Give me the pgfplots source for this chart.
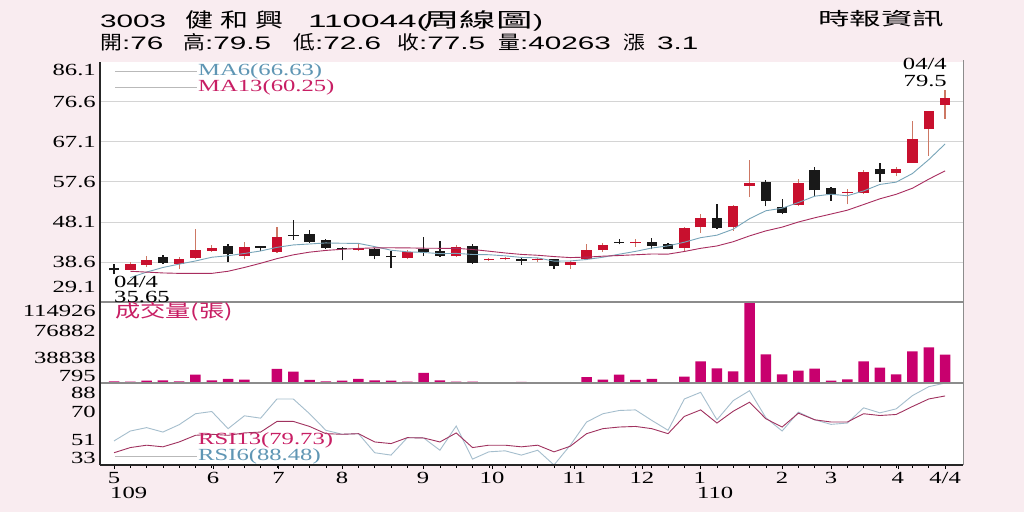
\documentclass[border=0pt]{standalone}
\usepackage{fontspec}
\usepackage{graphicx}
\setmainfont{Liberation Serif}[FakeStretch=1.45]
\newfontfamily\tsans{Liberation Sans}[FakeStretch=1.65]
\newfontfamily\cjkA{Noto Sans CJK TC}[FakeStretch=1.4]
\newfontfamily\cjkB{Noto Sans CJK TC}[FakeStretch=1.15]
\newfontfamily\cjkC{Noto Sans CJK TC}[FakeStretch=1.75]
\usepackage{pgfplots}
\usepackage{pgfplotstable}
\pgfplotsset{compat=1.18}

\definecolor{bgpink}{RGB}{249,236,240}
\definecolor{candred}{RGB}{200,16,46}
\definecolor{wickred}{RGB}{205,120,100}
\definecolor{candblk}{RGB}{25,25,25}
\definecolor{maA}{RGB}{120,165,185}
\definecolor{maB}{RGB}{168,45,95}
\definecolor{volc}{RGB}{200,0,110}
\definecolor{rsiA}{RGB}{165,190,205}
\definecolor{rsiB}{RGB}{160,50,95}
\definecolor{labA}{RGB}{95,150,180}
\definecolor{labB}{RGB}{200,30,100}
\definecolor{gridc}{RGB}{212,212,212}
\definecolor{sepc}{RGB}{140,140,140}
\definecolor{legl}{RGB}{185,185,185}

\newcommand{\tickf}{\fontsize{17}{17}\selectfont}

% up candles (close >= open)
\pgfplotstableread{
i O H L C
1 36.8 38.6 36.6 38.2
2 37.9 40.0 37.4 39.0
4 38.2 39.8 36.9 39.4
5 39.5 46.4 39.2 41.4
6 41.2 42.6 41.0 41.9
8 40.0 43.3 39.2 42.2
10 41.0 46.9 40.8 44.6
15 41.5 43.2 41.2 41.9
18 39.6 41.4 39.2 41.0
21 40.0 42.6 39.8 42.2
23 39.0 39.5 38.9 39.3
24 39.2 39.9 39.0 39.5
26 39.0 39.5 38.7 39.3
28 37.9 38.8 37.0 38.7
29 39.2 42.8 39.0 41.4
30 41.4 43.2 41.0 42.6
32 43.1 44.1 42.2 43.4
35 42.0 46.9 41.0 46.6
36 46.8 50.0 45.5 49.1
38 46.8 52.1 46.0 51.9
39 56.7 62.9 54.0 57.3
42 52.1 58.2 51.8 57.3
45 54.9 56.0 52.3 55.2
46 55.0 60.4 54.8 60.0
48 59.8 61.2 59.0 60.6
49 62.2 72.1 62.2 67.9
50 70.1 74.5 63.8 74.5
51 76.0 79.5 72.6 77.5
}\upT

% down candles (close < open)
\pgfplotstableread{
i O H L C
0 37.2 38.2 35.65 36.6
3 39.9 40.3 38.2 38.45
7 42.4 42.96 38.6 40.4
9 42.3 42.5 41.1 42.0
11 45.1 48.5 43.9 44.8
12 45.3 46.1 43.2 43.3
13 43.8 44.0 41.8 41.9
14 42.0 42.2 39.0 41.7
16 41.6 42.0 39.2 40.0
17 40.0 41.2 37.1 39.7
19 41.6 44.5 40.0 41.0
20 41.2 43.6 39.8 40.0
22 42.4 42.8 38.2 38.45
25 39.4 39.6 38.0 38.8
27 39.2 39.4 36.9 37.6
31 43.4 44.1 42.8 43.1
33 43.4 44.4 41.6 42.4
34 42.8 43.0 41.6 41.8
37 49.0 52.3 46.4 46.6
40 57.6 58.0 51.8 53.1
41 51.7 53.5 49.9 50.2
43 60.5 61.2 54.3 55.6
44 56.2 56.4 53.1 54.7
47 60.8 62.2 57.7 59.4
}\dnT

% moving averages
\pgfplotstableread{
i a b
1 34.9 36.4
2 36.2 36.2
3 37.3 36.0
4 38.1 35.9
5 38.84 35.9
6 39.73 35.9
7 40.09 36.4
8 40.63 37.3
9 41.22 38.3
10 42.08 39.4
11 42.65 40.3
12 42.88 40.94
13 43.13 41.35
14 43.05 41.62
15 43.02 41.83
16 42.25 41.95
17 41.4 41.98
18 41.02 41.95
19 40.87 41.88
20 40.58 41.85
21 40.65 41.85
22 40.39 41.57
23 40.33 41.17
24 40.06 40.75
25 39.69 40.4
26 39.58 40.2
27 38.81 39.89
28 38.85 39.65
29 39.2 39.76
30 39.73 39.98
31 40.45 40.14
32 41.12 40.32
33 41.92 40.5
34 42.43 40.47
35 43.3 41.1
36 44.38 41.85
37 44.97 42.41
38 46.4 43.42
39 48.88 44.8
40 50.77 45.99
41 51.37 46.88
42 52.73 48.1
43 54.23 49.1
44 54.7 49.99
45 54.33 50.9
46 55.48 52.25
47 57.02 53.61
48 57.57 54.68
49 59.62 56.13
50 62.92 58.28
51 66.63 60.25
}\maT

% volume and RSI
\pgfplotstableread{
i v r6 r13
0 2400 49.3 41.3
1 1900 56.0 44.8
2 3300 58.3 46.4
3 3800 55.3 45.3
4 2400 60.3 48.6
5 11800 67.7 53.1
6 3800 69.2 53.8
7 5700 57.6 53.1
8 4700 66.3 54.7
9 600 64.7 55.3
10 19900 77.7 62.5
11 16100 77.7 62.5
12 4300 67.7 59.1
13 2400 56.5 54.2
14 3300 53.8 53.8
15 5700 54.2 54.2
16 3800 41.3 48.6
17 3300 39.7 47.5
18 1900 51.5 51.5
19 14200 51.3 51.3
20 3800 43.0 48.6
21 1900 59.4 54.7
22 1900 37.0 44.8
23 800 41.9 46.4
24 1000 42.6 46.4
25 1500 39.7 45.3
26 500 43.0 46.4
27 500 33.0 41.9
28 500 46.4 45.7
29 8500 62.1 54.2
30 4700 67.7 57.6
31 11800 69.9 58.7
32 4300 70.3 59.1
33 5700 63.2 57.6
34 900 56.5 54.2
35 9000 77.7 65.9
36 30700 82.2 70.3
37 20800 63.6 61.4
38 16600 76.6 69.4
39 114926 83.3 75.5
40 40700 65.0 64.3
41 12300 56.0 58.7
42 17500 68.8 68.1
43 20300 63.6 63.6
44 3300 60.5 62.1
45 5200 61.4 62.1
46 30700 71.7 67.7
47 21800 68.3 66.5
48 12300 71.0 67.2
49 44900 80.0 72.6
50 50600 86.0 77.7
51 40263 88.48 79.73
}\vrT

\pgfplotsset{
  panel/.style={
    scale only axis, width=863pt,
    xmin=-0.86, xmax=52.1,
    axis line style={draw=none},
    axis background/.style={fill=white},
    ytick style={draw=none},
    scaled y ticks=false,
    yticklabel style={font=\tickf, inner sep=0pt, xshift=-4pt},
    anchor=south west,
  },
  candle/.style 2 args={draw=none, mark=none, forget plot,
    error bars/.cd, y dir=plus, y explicit, error mark=none,
    error bar style={draw=#1, line width=#2}},
}

\begin{document}
\begin{tikzpicture}[x=1pt,y=1pt]
\fill[bgpink] (0,0) rectangle (1024,512);
\useasboundingbox (0,0) rectangle (1024,512);

% ---------- price panel ----------
\begin{axis}[panel, at={(100pt,210pt)}, height=240pt,
  ymin=29.1, ymax=86.1, xtick=\empty,
  ytick={38.6,48.1,57.6,67.1,76.6},
  yticklabels={38.6,48.1,57.6,67.1,76.6},
  ymajorgrids, grid style={gridc, line width=1pt},
  extra y ticks={32.7,84.2}, extra y tick labels={29.1,86.1},
  extra y tick style={grid=none},
]
\addplot[candle={wickred}{1.2pt}]
  table[x=i, y=L, y error plus expr=\thisrow{H}-\thisrow{L}] {\upT};
\addplot[candle={candblk}{1.2pt}]
  table[x=i, y=L, y error plus expr=\thisrow{H}-\thisrow{L}] {\dnT};
\addplot[candle={candred}{10.5pt}]
  table[x=i, y=O, y error plus expr=\thisrow{C}-\thisrow{O}] {\upT};
\addplot[candle={candblk}{10.5pt}]
  table[x=i, y=C, y error plus expr=\thisrow{O}-\thisrow{C}] {\dnT};
\addplot[maA, line width=0.9pt, mark=none] table[x=i, y=a] {\maT};
\addplot[maB, line width=0.9pt, mark=none] table[x=i, y=b] {\maT};
\end{axis}

% ---------- volume panel ----------
\begin{axis}[panel, at={(100pt,129pt)}, height=81pt,
  ymin=0, ymax=114926, xtick=\empty,
  ytick={9930,36180,74490,102150},
  yticklabels={795,38838,76882,114926},
]
\addplot[ybar, bar width=10.5pt, fill=volc, draw=none] table[x=i, y=v] {\vrT};
\end{axis}

% ---------- RSI panel ----------
\begin{axis}[panel, at={(100pt,47pt)}, height=82pt,
  ymin=33, ymax=88.5,
  ytick={37.7,49.9,68.9,82.1},
  yticklabels={33,51,70,88},
  xtick={0,6.07,10.1,14,18.96,23.2,28.25,32.4,35.95,41,44,48.1,51},
  xticklabels={5,6,7,8,9,10,11,12,1,2,3,4,4/4},
  minor xtick={0,1,...,51},
  xtick pos=left, xtick align=outside,
  xtick style={draw=black, line width=0.6pt},
  major tick length=4pt, minor tick length=2.5pt,
  xticklabel style={font=\tickf, inner sep=0pt, yshift=-3pt},
]
\addplot[rsiA, line width=0.9pt, mark=none] table[x=i, y=r6] {\vrT};
\addplot[rsiB, line width=0.9pt, mark=none] table[x=i, y=r13] {\vrT};
\end{axis}

% ---------- frame ----------
\draw[sepc, line width=1.4pt] (100,210) -- (963,210);
\draw[sepc, line width=1.4pt] (100,129) -- (963,129);
\draw[sepc, line width=1pt] (963,47) -- (963,452);
\draw[black!85, line width=1.3pt] (100,47) -- (963,47);
\draw[black!85, line width=1.3pt] (100,47) -- (100,450);

% ---------- legends / annotations ----------
\draw[legl, line width=0.6pt] (115,441) -- (197,441);
\draw[legl, line width=0.6pt] (115,425) -- (197,425);
\node[anchor=west, inner sep=0, text=labA, font=\tickf] at (198,441) {MA6(66.63)};
\node[anchor=west, inner sep=0, text=labB, font=\tickf] at (198,425) {MA13(60.25)};
\node[anchor=east, inner sep=0, font=\tickf] at (947,448) {04/4};
\node[anchor=east, inner sep=0, font=\tickf] at (947,431) {79.5};
\node[anchor=base west, inner sep=0, font=\tickf] at (114,225) {04/4};
\node[anchor=base west, inner sep=0, font=\tickf] at (114,210) {35.65};
\node[anchor=west, inner sep=0, text=labB] at (115,200) {\cjkA\fontsize{18}{18}\selectfont 成交量(張)};
\draw[legl, line width=0.6pt] (115,56) -- (197,56);
\node[anchor=west, inner sep=0, text=labB, font=\tickf] at (198,72) {RSI13(79.73)};
\node[anchor=west, inner sep=0, text=labA, font=\tickf] at (198,56) {RSI6(88.48)};
\node[anchor=north west, inner sep=0, font=\tickf] at (110,25) {109};
\node[anchor=north west, inner sep=0, font=\tickf] at (697,25) {110};

% ---------- title ----------
\begin{scope}[every node/.style={anchor=base west, inner sep=0}]
\node at (100,484) {\tsans\fontsize{18}{18}\selectfont 3003};
\node at (185,484) {\cjkA\fontsize{20}{20}\selectfont 健};
\node at (220,484) {\cjkA\fontsize{20}{20}\selectfont 和};
\node at (255,484) {\cjkA\fontsize{20}{20}\selectfont 興};
\node at (308,484) {\scalebox{1.12}[1]{\tsans\fontsize{18}{18}\selectfont 110044(}};
\node at (423,484) {\scalebox{1.3}[1]{\cjkA\fontsize{20}{20}\selectfont 周線圖}};
\node at (533,484) {\tsans\fontsize{18}{18}\selectfont )};
\node at (100,462) {\cjkB\fontsize{19}{19}\selectfont 開\tsans\fontsize{18}{18}\selectfont :76};
\node at (183,462) {\cjkB\fontsize{19}{19}\selectfont 高\tsans\fontsize{18}{18}\selectfont :79.5};
\node at (293,462) {\cjkB\fontsize{19}{19}\selectfont 低\tsans\fontsize{18}{18}\selectfont :72.6};
\node at (397,462) {\cjkB\fontsize{19}{19}\selectfont 收\tsans\fontsize{18}{18}\selectfont :77.5};
\node at (498,462) {\cjkB\fontsize{19}{19}\selectfont 量\tsans\fontsize{18}{18}\selectfont :40263};
\node at (623,462) {\cjkB\fontsize{19}{19}\selectfont 漲};
\node at (657,462) {\tsans\fontsize{18}{18}\selectfont 3.1};
\node at (818,486) {\cjkC\fontsize{18}{18}\selectfont 時報資訊};
\end{scope}
\end{tikzpicture}
\end{document}
